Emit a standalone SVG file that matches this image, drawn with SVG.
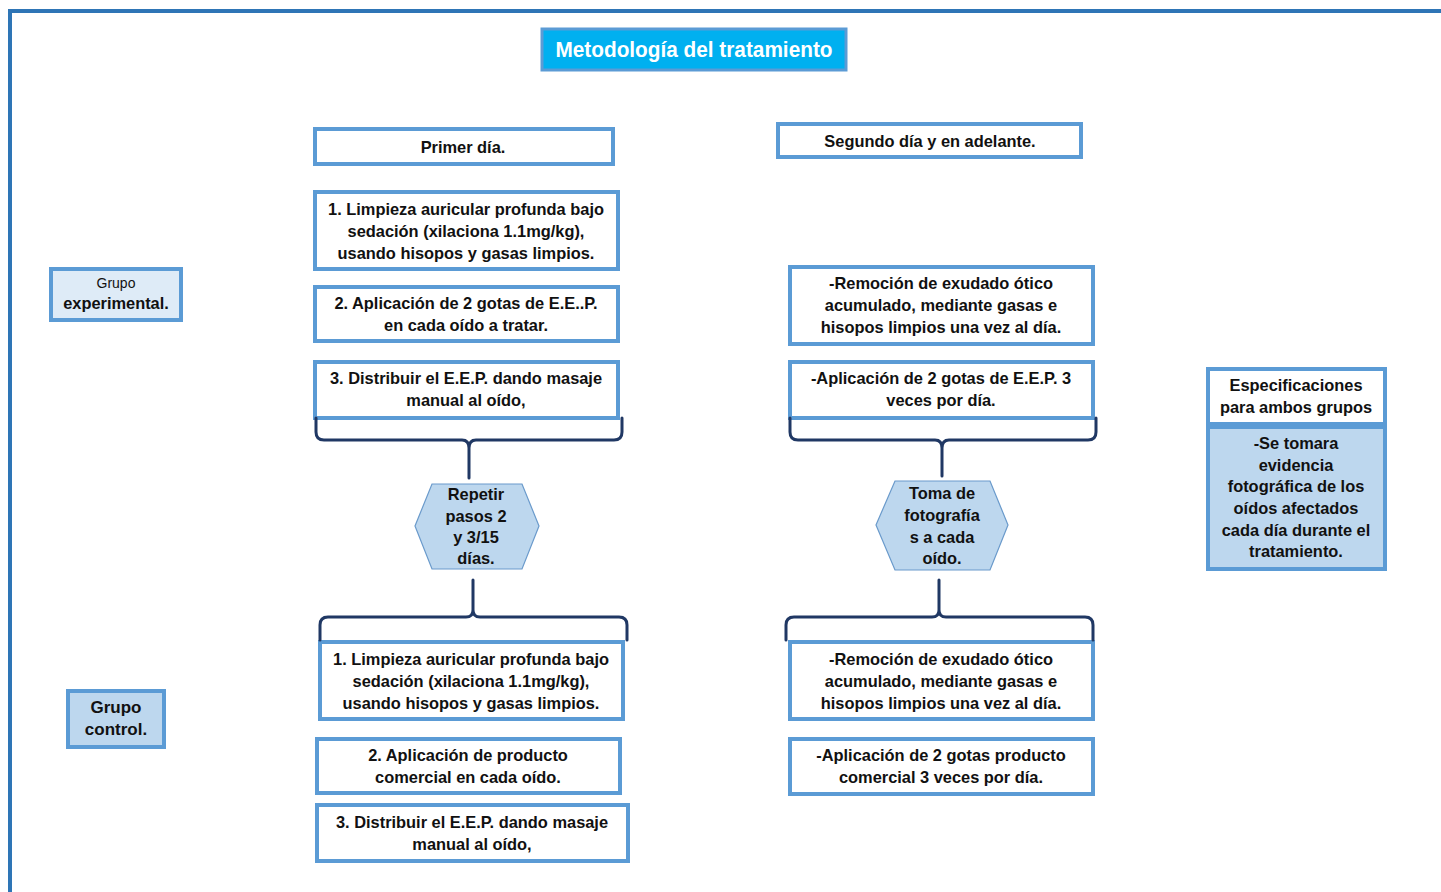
<svg xmlns="http://www.w3.org/2000/svg" width="1441" height="892" viewBox="0 0 1441 892">
<style>
text{font-family:"Liberation Sans",Arial,sans-serif;font-weight:bold;font-size:16.4px;fill:#111;text-anchor:middle}
.box{fill:#fff;stroke:#5B9BD5;stroke-width:4}
.lb{fill:#BDD7EE;stroke:#5B9BD5;stroke-width:4}
.hex{fill:#BDD7EE;stroke:#6A9ACB;stroke-width:1.2}
.br{fill:none;stroke:#203864;stroke-width:3;stroke-linecap:round;stroke-linejoin:round}
.t{fill:#fff;font-size:22px}
</style>
<rect width="1441" height="892" fill="#fff"/>
<path d="M10,892 V11 H1441" fill="none" stroke="#2E75B6" stroke-width="4"/>
<g id="title">
<rect x="542" y="29" width="304" height="41" fill="#00B0F0" stroke="#5B9BD5" stroke-width="3"/>
<text class="t" x="694" y="57" textLength="277" lengthAdjust="spacingAndGlyphs">Metodología del tratamiento</text>
</g>
<g id="primer-dia">
<rect class="box" x="315" y="129" width="298" height="35"/>
<text x="463" y="153">Primer día.</text>
</g>
<g id="exp1">
<rect class="box" x="315" y="192" width="303" height="77"/>
<text x="466" y="215">1. Limpieza auricular profunda bajo</text>
<text x="466" y="237">sedación (xilaciona 1.1mg/kg),</text>
<text x="466" y="259">usando hisopos y gasas limpios.</text>
</g>
<g id="exp2">
<rect class="box" x="315" y="287" width="303" height="54"/>
<text x="466" y="309">2. Aplicación de 2 gotas de E.E..P.</text>
<text x="466" y="331">en cada oído a tratar.</text>
</g>
<g id="exp3">
<rect class="box" x="315" y="362" width="303" height="56"/>
<text x="466" y="384">3. Distribuir el E.E.P. dando masaje</text>
<text x="466" y="406">manual al oído,</text>
</g>
<g id="hex1">
<polygon class="hex" points="415,526 432,484 522,484 539,526 522,569 432,569"/>
<text x="476" y="500">Repetir</text>
<text x="476" y="522">pasos 2</text>
<text x="476" y="543">y 3/15</text>
<text x="476" y="564">días.</text>
</g>
<g id="ctl1">
<rect class="box" x="320" y="642" width="303" height="77"/>
<text x="471" y="665">1. Limpieza auricular profunda bajo</text>
<text x="471" y="687">sedación (xilaciona 1.1mg/kg),</text>
<text x="471" y="709">usando hisopos y gasas limpios.</text>
</g>
<g id="ctl2">
<rect class="box" x="317" y="739" width="303" height="54"/>
<text x="468" y="761">2. Aplicación de producto</text>
<text x="468" y="783">comercial en cada oído.</text>
</g>
<g id="ctl3">
<rect class="box" x="317" y="805" width="311" height="56"/>
<text x="472" y="828">3. Distribuir el E.E.P. dando masaje</text>
<text x="472" y="850">manual al oído,</text>
</g>
<g id="segundo-dia">
<rect class="box" x="778" y="124" width="303" height="33"/>
<text x="930" y="147">Segundo día y en adelante.</text>
</g>
<g id="r1">
<rect class="box" x="790" y="267" width="303" height="77"/>
<text x="941" y="289">-Remoción de exudado ótico</text>
<text x="941" y="311">acumulado, mediante gasas e</text>
<text x="941" y="333">hisopos limpios una vez al día.</text>
</g>
<g id="r2">
<rect class="box" x="790" y="362" width="303" height="56"/>
<text x="941" y="384">-Aplicación de 2 gotas de E.E.P. 3</text>
<text x="941" y="406">veces por día.</text>
</g>
<g id="hex2">
<polygon class="hex" points="876,525 895,481 990,481 1008,525 990,570 895,570"/>
<text x="942" y="499">Toma de</text>
<text x="942" y="521">fotografía</text>
<text x="942" y="543">s a cada</text>
<text x="942" y="564">oído.</text>
</g>
<g id="r3">
<rect class="box" x="790" y="642" width="303" height="77"/>
<text x="941" y="665">-Remoción de exudado ótico</text>
<text x="941" y="687">acumulado, mediante gasas e</text>
<text x="941" y="709">hisopos limpios una vez al día.</text>
</g>
<g id="r4">
<rect class="box" x="790" y="739" width="303" height="55"/>
<text x="941" y="761">-Aplicación de 2 gotas producto</text>
<text x="941" y="783">comercial 3 veces por día.</text>
</g>
<g id="especificaciones">
<rect class="box" x="1208" y="369" width="177" height="55"/>
<text x="1296" y="391">Especificaciones</text>
<text x="1296" y="413">para ambos grupos</text>
<rect class="lb" x="1208" y="427" width="177" height="142"/>
<text x="1296" y="449">-Se tomara</text>
<text x="1296" y="471">evidencia</text>
<text x="1296" y="492">fotográfica de los</text>
<text x="1296" y="514">oídos afectados</text>
<text x="1296" y="536">cada día durante el</text>
<text x="1296" y="557">tratamiento.</text>
</g>
<g id="grupo-experimental">
<rect x="51" y="269" width="130" height="51" fill="#DEEBF7" stroke="#5B9BD5" stroke-width="4"/>
<text x="116" y="288" style="font-weight:normal;font-size:14px">Grupo</text>
<text x="116" y="309">experimental.</text>
</g>
<g id="grupo-control">
<rect class="lb" x="68" y="691" width="96" height="56"/>
<text x="116" y="713" style="font-size:17px">Grupo</text>
<text x="116" y="735" style="font-size:17px">control.</text>
</g>
<g id="connectors">
<path class="br" d="M316,418 V432 Q316,440 324,440 H462 Q469,440 469,448 V478 M469,448 Q469,440 476,440 H614 Q622,440 622,432 V418"/>
<path class="br" d="M473,580 V610 Q473,617 466,617 H328 Q320,617 320,625 V640 M473,610 Q473,617 480,617 H619 Q627,617 627,625 V640"/>
<path class="br" d="M790,418 V432 Q790,440 798,440 H935 Q942,440 942,448 V476 M942,448 Q942,440 949,440 H1088 Q1096,440 1096,432 V418"/>
<path class="br" d="M939,580 V610 Q939,617 932,617 H794 Q786,617 786,625 V640 M939,610 Q939,617 946,617 H1085 Q1093,617 1093,625 V640"/>
</g>
</svg>
